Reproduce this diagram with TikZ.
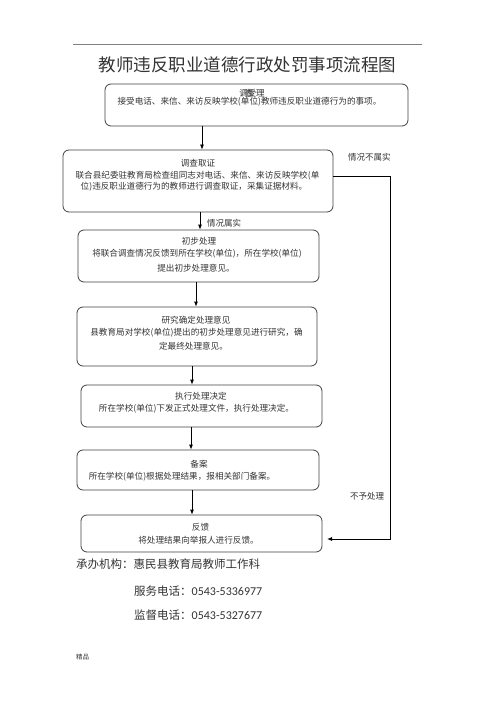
\documentclass[tikz,border=0pt]{standalone}
\usepackage{fontspec}
\setmainfont{Noto Sans CJK SC}
\newfontfamily\numfont{Carlito}
\usetikzlibrary{arrows.meta}
\definecolor{boxline}{HTML}{404040}
\definecolor{txt}{HTML}{333333}
\tikzset{
  box/.style={draw=boxline, line width=0.8bp, rounded corners=6bp, inner sep=0pt},
  arr/.style={draw=black, line width=0.8bp, -{Latex[length=5bp,width=4bp]}},
  btext/.style={text=txt, font=\fontsize{8.6bp}{10bp}\selectfont, inner sep=0pt},
  lbl/.style={text=txt, font=\fontsize{8.5bp}{10bp}\selectfont, inner sep=0pt, anchor=west},
  foot/.style={text=txt, font=\fontsize{11.5bp}{13bp}\selectfont, inner sep=0pt, anchor=west},
}
\begin{document}
\begin{tikzpicture}[x=1bp,y=-1bp]
\useasboundingbox (0,0) rectangle (496,702);
\draw[gray, line width=0.8bp] (73,44) -- (422,44);
\node[inner sep=0pt, text=txt, font=\fontsize{17.5bp}{20bp}\selectfont] (title) at (247.5,65) {教师违反职业道德行政处罚事项流程图};

% boxes
\node[box, minimum width=303bp, minimum height=42bp] (b1) at (256.5,105) {};
\node[box, minimum width=270bp, minimum height=62bp] (b2) at (198,181) {};
\node[box, minimum width=241bp, minimum height=52bp] (b3) at (198.5,256) {};
\node[box, minimum width=240bp, minimum height=59bp] (b4) at (197,336.5) {};
\node[box, minimum width=241bp, minimum height=42bp] (b5) at (201.5,406) {};
\node[box, minimum width=242bp, minimum height=40bp] (b6) at (198,470) {};
\node[box, minimum width=241bp, minimum height=37bp] (b7) at (201.5,533.5) {};

% box texts
\node[btext] (t1a) at (252,93) {调\kern-3bp 查\kern-6bp 受理};
\node[btext] (t1b) at (249.5,102) {接受电话、来信、来访反映学校(单位)教师违反职业道德行为的事项。};
\node[btext] (t2a) at (198,163) {调查取证};
\node[btext] (t2b) at (197.5,176) {联合县纪委驻教育局检查组同志对电话、来信、来访反映学校(单};
\node[btext] (t2c) at (194,187) {位)违反职业道德行为的教师进行调查取证，采集证据材料。};
\node[btext] (t3a) at (199,241) {初步处理};
\node[btext] (t3b) at (197,254) {将联合调查情况反馈到所在学校(单位)，所在学校(单位)};
\node[btext] (t3c) at (196,268) {提出初步处理意见。};
\node[btext] (t4a) at (196,320) {研究确定处理意见};
\node[btext] (t4b) at (196.5,333) {县教育局对学校(单位)提出的初步处理意见进行研究，确};
\node[btext] (t4c) at (193.5,346) {定最终处理意见。};
\node[btext] (t5a) at (201,396) {执行处理决定};
\node[btext] (t5b) at (196.5,409) {所在学校(单位)下发正式处理文件，执行处理决定。};
\node[btext] (t6a) at (199,464) {备案};
\node[btext] (t6b) at (182,477) {所在学校(单位)根据处理结果，报相关部门备案。};
\node[btext] (t7a) at (200.5,527) {反馈};
\node[btext] (t7b) at (198.5,540) {将处理结果向举报人进行反馈。};

% arrow x positions
\coordinate (x1) at (202,0);
\coordinate (x2) at (200,0);
\coordinate (x3) at (196,0);
\coordinate (x4) at (192,0);
\coordinate (x5) at (191,0);
\coordinate (x6) at (192,0);
\draw[arr] (b1.south -| x1) -- (b2.north -| x1);
\draw[arr] (b2.south -| x2) -- (b3.north -| x2);
\draw[arr] (b3.south -| x3) -- (b4.north -| x3);
\draw[arr] (b4.south -| x4) -- (b5.north -| x4);
\draw[arr] (b5.south -| x5) -- (b6.north -| x5);
\draw[arr] (b6.south -| x6) -- (b7.north -| x6);

% right loop
\coordinate (ry1) at (0,176);
\coordinate (rc1) at (390,176);
\coordinate (rc2) at (390,539);
\coordinate (rend) at (327,539);
\draw[arr] (b2.east |- ry1) -- (rc1) -- (rc2) -- (rend);

\node[lbl] (l1) at (207,223) {情况属实};
\node[lbl] (l2) at (348,157) {情况不属实};
\node[lbl] (l3) at (350,496) {不予处理};

% footer
\node[foot] (f1) at (76,564) {承办机构：惠民县教育局教师工作科};
\node[foot] (f2) at (134,591) {服务电话：{\numfont\fontsize{12bp}{13bp}\selectfont 0543-5336977}};
\node[foot] (f3) at (134,615) {监督电话：{\numfont\fontsize{12bp}{13bp}\selectfont 0543-5327677}};
\node[text=txt, font=\fontsize{6.5bp}{8bp}\selectfont, inner sep=0pt, anchor=west] (jp) at (76,657) {精品};
\end{tikzpicture}
\end{document}
